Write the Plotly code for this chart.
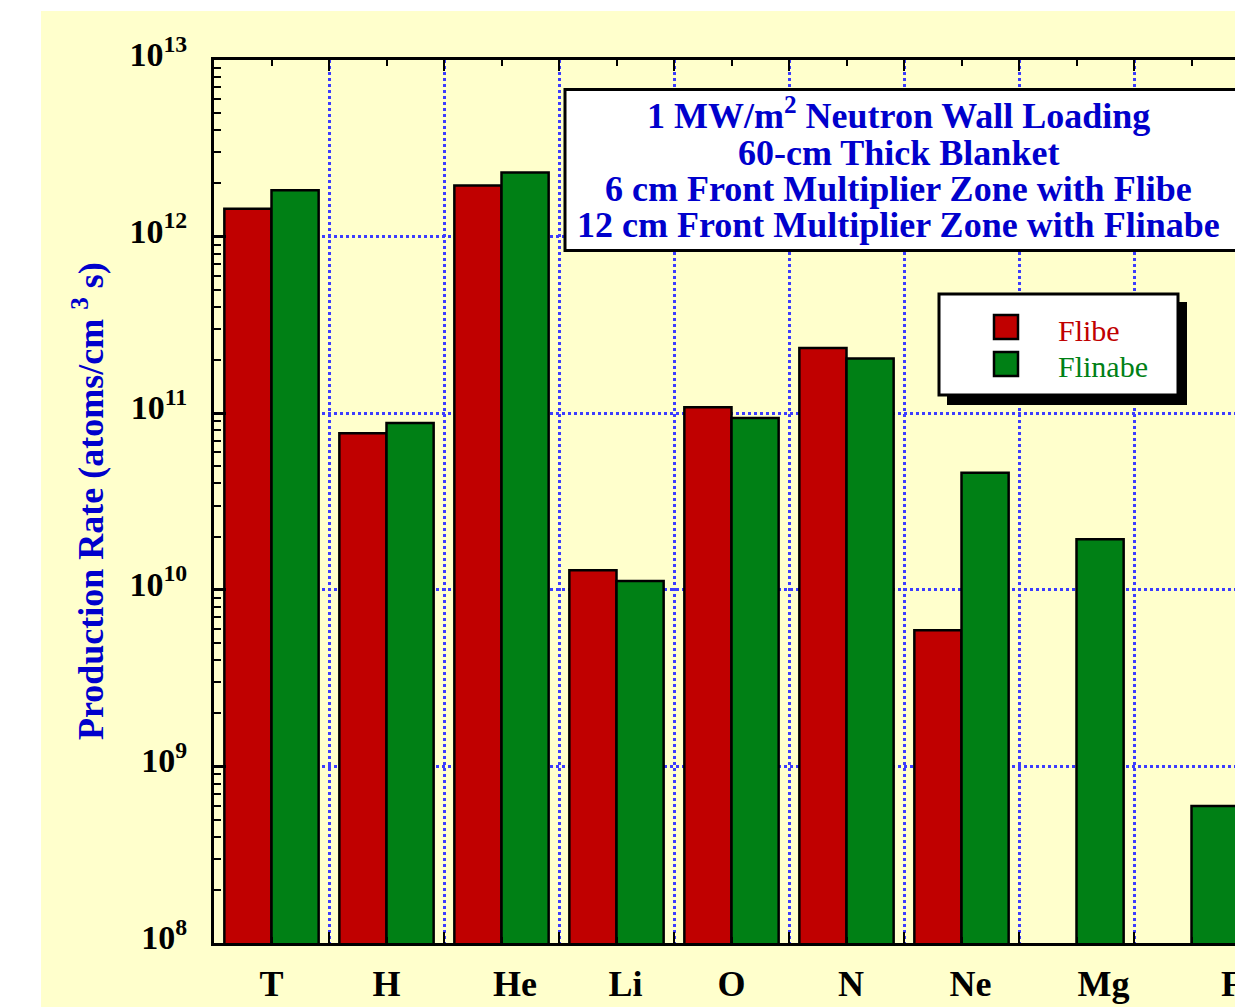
import plotly.graph_objects as go

# ---- data -------------------------------------------------------------
elements = ["T", "H", "He", "Li", "O", "N", "Ne", "Mg", "F"]
flibe = [1.44e12, 7.7e10, 1.95e12, 1.29e10, 1.08e11, 2.34e11, 5.9e9, None, None]
flinabe = [1.83e12, 8.8e10, 2.31e12, 1.12e10, 9.4e10, 2.04e11, 4.6e10, 1.93e10, 5.96e8]
decades = [8, 9, 10, 11, 12, 13]
title_lines = [
    "1 MW/m<sup>2</sup> Neutron Wall Loading",
    "60-cm Thick Blanket",
    "6 cm Front Multiplier Zone with Flibe",
    "12 cm Front Multiplier Zone with Flinabe",
]
y_title = "Production Rate (atoms/cm <sup>3</sup> s)"

# ---- style ------------------------------------------------------------
RED = "#c00000"
GREEN = "#008015"
BLUE_TXT = "#0000cc"
GRID = "#3c3cff"
BG = "#ffffcc"
SERIF = "Liberation Serif, Times New Roman, serif"
# leading non-breaking spaces in front of each category label
label_pad = [0, 0, 3, 2, 0, 1, 2, 6, 9]

W, H = 1235, 1007
ML, MT, MB, MR = 214, 60, 64, 0
PW, PH = W - ML - MR, H - MT - MB


def px(x):
    """pixel column -> paper x"""
    return (x - ML) / PW


def py(y):
    """pixel row -> paper y"""
    return (H - MB - y) / PH


xs = list(range(len(elements)))

fig = go.Figure()
fig.add_trace(go.Bar(x=xs, y=flibe, name="Flibe",
                     marker=dict(color=RED, line=dict(color="black", width=2.5))))
fig.add_trace(go.Bar(x=xs, y=flinabe, name="Flinabe",
                     marker=dict(color=GREEN, line=dict(color="black", width=2.5))))

minor_y = [k * 10 ** e for e in decades[:-1] for k in range(2, 10)]
boundaries = [i - 0.5 for i in range(len(elements) + 1)]
x_labels = ["&nbsp;" * n + f"<b>{e}</b>" for e, n in zip(elements, label_pad)]

fig.update_layout(
    width=W, height=H,
    margin=dict(l=ML, r=MR, t=MT, b=MB, autoexpand=False),
    paper_bgcolor=BG, plot_bgcolor=BG,
    barmode="group", bargap=0.18, bargroupgap=0,
    showlegend=False,
    font=dict(family=SERIF, color="black"),
    xaxis=dict(
        range=[-0.5, (W - 271.5) / 115.0], autorange=False,
        tickvals=xs, ticktext=x_labels,
        tickfont=dict(size=36, family=SERIF, color="black"),
        ticks="inside", ticklen=6, tickwidth=2, tickcolor="black",
        ticklabelstandoff=7, ticklabeloverflow="allow",
        showgrid=False, zeroline=False,
        showline=True, linewidth=3, linecolor="black", mirror="ticks",
        minor=dict(tickvals=boundaries, ticks="inside", ticklen=11,
                   tickwidth=2, tickcolor="black",
                   showgrid=True, gridcolor=GRID, gridwidth=3, griddash="dot"),
    ),
    yaxis=dict(
        type="log", range=[decades[0], decades[-1]], autorange=False,
        tickvals=[10 ** d for d in decades],
        ticktext=[f"<b>10<sup>{d}</sup></b>" for d in decades],
        tickfont=dict(size=34, family=SERIF, color="black"),
        ticks="inside", ticklen=12, tickwidth=2.5, tickcolor="black",
        ticklabelstandoff=17, ticklabelshift=-6, ticklabeloverflow="allow",
        showgrid=True, gridcolor=GRID, gridwidth=3, griddash="dot",
        zeroline=False,
        showline=True, linewidth=3, linecolor="black", mirror=False,
        minor=dict(tickvals=minor_y, ticks="inside", ticklen=7,
                   tickwidth=2, tickcolor="black", showgrid=False),
    ),
)

shapes = []
# white page strips on the left and top
shapes.append(dict(type="rect", xref="paper", yref="paper", layer="below",
                   x0=px(-5), x1=px(41), y0=py(H + 5), y1=py(-5),
                   fillcolor="white", line=dict(width=0)))
shapes.append(dict(type="rect", xref="paper", yref="paper", layer="below",
                   x0=px(-5), x1=px(W + 5), y0=py(11), y1=py(-5),
                   fillcolor="white", line=dict(width=0)))
# title box
shapes.append(dict(type="rect", xref="paper", yref="paper",
                   x0=px(565), x1=px(W + 20), y0=py(250.5), y1=py(89.5),
                   fillcolor="white", line=dict(color="black", width=3)))
# legend box with drop shadow
shapes.append(dict(type="rect", xref="paper", yref="paper",
                   x0=px(947), x1=px(1187), y0=py(405), y1=py(302),
                   fillcolor="black", line=dict(width=0)))
shapes.append(dict(type="rect", xref="paper", yref="paper",
                   x0=px(939), x1=px(1178), y0=py(395), y1=py(294),
                   fillcolor="white", line=dict(color="black", width=3)))
for color, yc in ((RED, 327), (GREEN, 364)):
    shapes.append(dict(type="rect", xref="paper", yref="paper",
                       x0=px(994), x1=px(1018), y0=py(yc + 12), y1=py(yc - 12),
                       fillcolor=color, line=dict(color="black", width=2.5)))
fig.update_layout(shapes=shapes)

ann = []
for i, line in enumerate(title_lines):
    yc = 117 + 36 * i - (3 if "<sup>" in line else 0)
    ann.append(dict(xref="paper", yref="paper", x=px(898), y=py(yc),
                    xanchor="center", yanchor="middle", showarrow=False,
                    text=f"<b>{line}</b>",
                    font=dict(family=SERIF, size=36, color=BLUE_TXT)))
for name, color, yc in (("Flibe", RED, 330), ("Flinabe", GREEN, 366)):
    ann.append(dict(xref="paper", yref="paper", x=px(1056), y=py(yc),
                    xanchor="left", yanchor="middle", showarrow=False,
                    text=name, font=dict(family=SERIF, size=30, color=color)))
ann.append(dict(xref="paper", yref="paper", x=px(88), y=py(501),
                xanchor="center", yanchor="middle", showarrow=False,
                textangle=-90, text=f"<b>{y_title}</b>",
                font=dict(family=SERIF, size=36, color=BLUE_TXT)))
fig.update_layout(annotations=ann)

fig.write_html("out.html")
